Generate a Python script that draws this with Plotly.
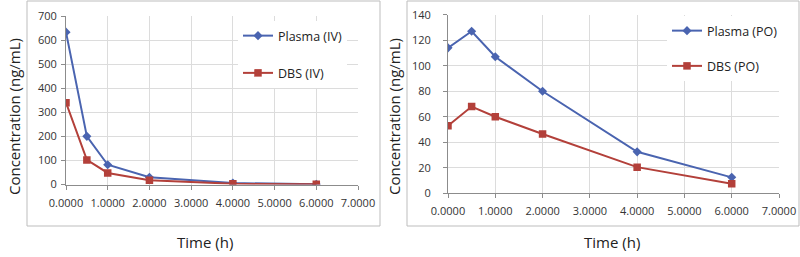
import plotly.graph_objects as go

time_h = [0.0, 0.5, 1.0, 2.0, 4.0, 6.0]
plasma_iv = [633, 200, 82, 30, 6, 1]
dbs_iv = [340, 102, 48, 18, 3, 1]
plasma_po = [114, 127, 107, 80, 32.5, 12.5]
dbs_po = [53, 68, 60, 46.5, 20.5, 7.5]

BLUE = "#4A64B0"
RED = "#B3403A"
FONT = "Open Sans"
W, H = 800, 257

def px(x):
    return x / W

def py(y):
    return (H - y) / H

fig = go.Figure()

fig.add_trace(go.Scatter(x=time_h, y=plasma_iv, name="Plasma (IV)", mode="lines+markers",
                         line=dict(color=BLUE, width=2), marker=dict(symbol="diamond", size=7, color=BLUE),
                         xaxis="x", yaxis="y", legend="legend", legendgroup="a"))
fig.add_trace(go.Scatter(x=time_h, y=dbs_iv, name="DBS (IV)", mode="lines+markers",
                         line=dict(color=RED, width=2), marker=dict(symbol="square", size=7.5, color=RED),
                         xaxis="x", yaxis="y", legend="legend", legendgroup="b"))
fig.add_trace(go.Scatter(x=time_h, y=plasma_po, name="Plasma (PO)", mode="lines+markers",
                         line=dict(color=BLUE, width=2), marker=dict(symbol="diamond", size=7, color=BLUE),
                         xaxis="x2", yaxis="y2", legend="legend2", legendgroup="c"))
fig.add_trace(go.Scatter(x=time_h, y=dbs_po, name="DBS (PO)", mode="lines+markers",
                         line=dict(color=RED, width=2), marker=dict(symbol="square", size=7.5, color=RED),
                         xaxis="x2", yaxis="y2", legend="legend2", legendgroup="d"))

axis_common = dict(showline=True, linecolor="#8c8c8c", linewidth=1, ticks="outside", ticklen=4,
                   tickcolor="#8c8c8c", showgrid=True, gridcolor="#dcdcdc", gridwidth=1,
                   zeroline=False, automargin=False,
                   tickfont=dict(family=FONT, size=11, color="#333333"))

fig.update_layout(
    width=W, height=H, margin=dict(l=0, r=0, t=0, b=0, autoexpand=False),
    paper_bgcolor="white", plot_bgcolor="white",
    font=dict(family=FONT, color="#222222"),
    xaxis=dict(domain=[px(66), px(358)], range=[0, 7], dtick=1, tick0=0, tickformat=".4f",
               anchor="y", ticklabelstandoff=4, **axis_common),
    yaxis=dict(domain=[py(184.5), py(16)], range=[0, 700], dtick=100, anchor="x",
               ticklabelstandoff=2, **axis_common),
    xaxis2=dict(domain=[px(448), px(779)], range=[0, 7], dtick=1, tick0=0, tickformat=".4f",
                anchor="y2", ticklabelstandoff=3, **axis_common),
    yaxis2=dict(domain=[py(193.3), py(14.7)], range=[0, 140], dtick=20, anchor="x2",
                ticklabelstandoff=10, **axis_common),
    legend=dict(x=px(238), y=py(21), xanchor="left", yanchor="top", bgcolor="white",
                font=dict(family=FONT, size=12.5, color="#222222"), tracegroupgap=18, itemwidth=30),
    legend2=dict(x=px(667), y=py(16), xanchor="left", yanchor="top", bgcolor="white",
                 font=dict(family=FONT, size=12.5, color="#222222"), tracegroupgap=16, itemwidth=30),
    shapes=[
        dict(type="rect", xref="paper", yref="paper", x0=px(27), x1=px(380), y0=py(226), y1=py(1),
             line=dict(color="#bdbdbd", width=1), layer="below"),
        dict(type="rect", xref="paper", yref="paper", x0=px(407), x1=px(799), y0=py(226), y1=py(1),
             line=dict(color="#bdbdbd", width=1), layer="below"),
    ],
    annotations=[
        dict(text="Time (h)", xref="paper", yref="paper", x=px(205), y=py(242), showarrow=False,
             font=dict(family=FONT, size=15, color="#222222"), xanchor="center", yanchor="middle"),
        dict(text="Time (h)", xref="paper", yref="paper", x=px(612), y=py(242), showarrow=False,
             font=dict(family=FONT, size=15, color="#222222"), xanchor="center", yanchor="middle"),
        dict(text="Concentration (ng/mL)", xref="paper", yref="paper", x=px(14), y=py(117), showarrow=False,
             textangle=-90, font=dict(family=FONT, size=15, color="#222222"), xanchor="center", yanchor="middle"),
        dict(text="Concentration (ng/mL)", xref="paper", yref="paper", x=px(394), y=py(117), showarrow=False,
             textangle=-90, font=dict(family=FONT, size=15, color="#222222"), xanchor="center", yanchor="middle"),
    ],
)

fig.write_html("out.html")
